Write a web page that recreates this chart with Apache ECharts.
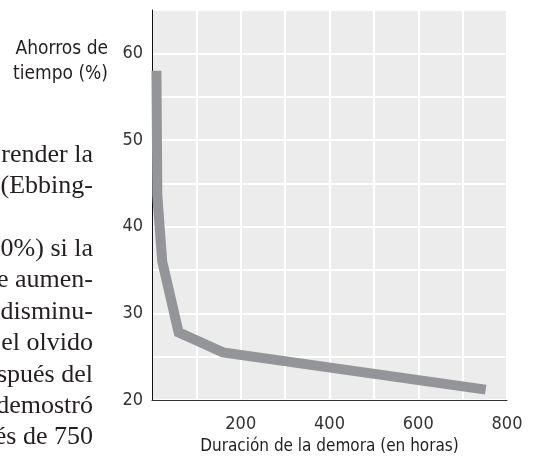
<!DOCTYPE html>
<html>
<head>
<meta charset="utf-8">
<script src="https://cdn.jsdelivr.net/npm/echarts@6/dist/echarts.min.js"></script>
<style>
  html, body { margin: 0; padding: 0; background: #fff; }
  #curveChart { width: 533px; height: 460px; }
</style>
</head>
<body>
<div id="curveChart"></div>
<script>
// Ebbinghaus: ahorro de tiempo al reaprender vs. demora
var delayHours = [10, 12, 23, 60, 160, 752];
var savingsPct = [58, 43.6, 36, 27.8, 25.5, 21.2];

var yTicks = [20, 30, 40, 50, 60];
var xTicks = [200, 400, 600, 800];

// trozo de texto de la página que asoma por la izquierda
var pageLines = [
  "render la",
  "(Ebbing-",
  "",
  "0%) si la",
  "e aumen-",
  "disminu-",
  "el olvido",
  "spués del",
  "demostró",
  "és de 750"
];

var condensed = "'DejaVu Sans Condensed', 'DejaVu Sans', sans-serif";

var pageText = [];
pageLines.forEach(function (t, i) {
  if (!t) return;
  pageText.push({
    type: "text",
    x: 93,
    y: 155 + i * 31.4,
    style: {
      text: t,
      font: "26px 'Liberation Serif', serif",
      fill: "#231f20",
      align: "right",
      verticalAlign: "middle"
    }
  });
});

var curveChart = echarts.init(document.getElementById("curveChart"));
var curveOption = {
  animation: false,
  grid: {
    left: 152,
    right: 26,
    top: 10,
    bottom: 60,
    show: true,
    backgroundColor: "#ececec",
    borderColor: "#333",
    borderWidth: 1
  },
  xAxis: {
    type: "value",
    min: 0,
    max: 800,
    interval: 100,
    name: "Duración de la demora (en horas)",
    nameLocation: "middle",
    nameGap: 38,
    nameTextStyle: { fontFamily: condensed, fontSize: 17, color: "#231f20" },
    axisLine: { show: true, lineStyle: { color: "#333", width: 1 } },
    axisTick: { show: false },
    axisLabel: {
      margin: 15,
      fontFamily: condensed,
      fontSize: 18,
      color: "#333",
      formatter: function (v) {
        return xTicks.indexOf(v) >= 0 ? String(v) : "";
      }
    },
    splitLine: { show: true, lineStyle: { color: "#fff", width: 2 } }
  },
  yAxis: {
    type: "value",
    min: 20,
    max: 65,
    interval: 5,
    axisLine: { show: true, lineStyle: { color: "#111", width: 1 } },
    axisTick: { show: false },
    axisLabel: {
      margin: 9,
      fontFamily: condensed,
      fontSize: 18,
      color: "#333",
      formatter: function (v) {
        return yTicks.indexOf(v) >= 0 ? String(v) : "";
      }
    },
    splitLine: { show: true, lineStyle: { color: "#fff", width: 2 } }
  },
  graphic: [
    {
      type: "text",
      x: 108,
      y: 37,
      style: {
        text: "Ahorros de\ntiempo (%)",
        font: "19px " + condensed,
        fill: "#231f20",
        align: "right",
        lineHeight: 25
      }
    }
  ].concat(pageText),
  series: [
    {
      type: "line",
      data: delayHours.map(function (h, i) { return [h, savingsPct[i]]; }),
      showSymbol: false,
      lineStyle: { color: "#939598", width: 10, join: "miter", cap: "butt" }
    }
  ]
};
curveChart.setOption(curveOption);
</script>
</body>
</html>
